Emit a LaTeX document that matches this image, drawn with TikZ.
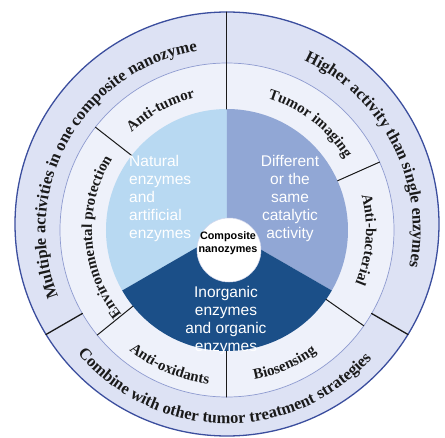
\documentclass[tikz,border=0pt]{standalone}
\usepackage{fontspec}
\setmainfont{Liberation Serif}
\setsansfont{Liberation Sans}
\usepackage{tikz}
\usetikzlibrary{calc, decorations.text}
\usepackage{tkz-euclide}

\definecolor{bandout}{HTML}{DDE2F4}
\definecolor{bandmid}{HTML}{EEF1FA}
\definecolor{rimblue}{HTML}{3B4E9E}
\definecolor{ringline}{HTML}{8E9BD0}
\definecolor{seclight}{HTML}{B8D9F2}
\definecolor{secmid}{HTML}{91A7D5}
\definecolor{secdark}{HTML}{1B4F88}
\definecolor{inkdark}{HTML}{1A1A1A}

\newcommand\outerfont{\bfseries\fontsize{16.5}{18}\selectfont}
\newcommand\ringfont{\bfseries\fontsize{15}{17}\selectfont}

\tikzset{
  divider/.style={draw=inkdark, line width=1pt},
  outertext/.style={decorate, decoration={text along path, text align=center,
      text color=inkdark, text={|\outerfont|#1}}},
  ringtext/.style={decorate, decoration={text along path, text align=center,
      text color=inkdark, text={|\ringfont|#1}}},
  pietext/.style={text=white, inner sep=0pt, align=center,
      font=\sffamily\fontsize{15.5}{18}\selectfont},
}

\begin{document}
\begin{tikzpicture}[x=1pt,y=1pt]
        \path[fill=white, use as bounding box] (-227,-207) rectangle (218,230);
        \tkzDefPoints{0/0/O,0/6/Q,0/218/T,0/167/K,2/-20/W,2/12/V}

        % the two rings
        \tkzFillCircle[fill=bandout](Q,T)
        \tkzDrawCircle[draw=rimblue, line width=1.3pt](Q,T)
        \tkzFillCircle[fill=bandmid](O,K)
        \tkzDrawCircle[draw=ringline, line width=0.7pt](O,K)

        % the three sectors
        \fill[seclight] (O) -- (90:121) arc[start angle=90, end angle=210, radius=121] -- cycle;
        \fill[secmid] (O) -- (-30:121) arc[start angle=-30, end angle=90, radius=121] -- cycle;
        \fill[secdark] (O) -- (210:121) arc[start angle=210, end angle=330, radius=121] -- cycle;

        \tkzFillCircle[fill=white](W,V)
        \tkzDrawCircle[draw=ringline!40, line width=0.5pt](W,V)

        % dividers
        \tkzDefPoint(90:121){A}
        \tkzDrawSegment[divider](A,T)
        \foreach \ang in {24,142,219,270,325}{
          \tkzDefPoint(\ang:121){p}\tkzDefPoint(\ang:167){q}
          \tkzDrawSegment[divider](p,q)}
        \foreach \ang in {210,330}{
          \tkzDefPoint(\ang:167){p}\tkzDefPoint(\ang:209){q}
          \tkzDrawSegment[divider, line width=1.3pt](p,q)}

        % outer ring
        \path[outertext={Multiple activities in one composite nanozyme}]
          (210:181.5) arc[start angle=210, end angle=91, radius=181.5];
        \path[outertext={Higher activity than single enzymes}]
          (87:186) arc[start angle=87, end angle=-33, radius=186];
        \path[outertext={Combine with other tumor treatment strategies}]
          (200:193.5) arc[start angle=200, end angle=338, radius=193.5];

        % middle ring
        \path[ringtext={Anti-tumor}] (140:136) arc[start angle=140, end angle=98, radius=136];
        \path[ringtext={Tumor imaging}] (88:138) arc[start angle=88, end angle=16, radius=138];
        \path[ringtext={Anti-bacterial}] (22:139) arc[start angle=22, end angle=-30, radius=139];
        \path[ringtext={Environmental protection}] (224:135) arc[start angle=224, end angle=143, radius=135];
        \path[ringtext={Anti-oxidants}] (222:155) arc[start angle=222, end angle=272, radius=155];
        \path[ringtext={Biosensing}] (270:152) arc[start angle=270, end angle=316.6, radius=152];

        \node[pietext, align=left, anchor=west] (natural) at (-98,32) {Natural\\enzymes\\and\\artificial\\enzymes};
        \node[pietext] (catalytic) at (63,32) {Different\\or the\\same\\catalytic\\activity};
        \node[pietext] (inorganic) at (-1,-90) {Inorganic\\enzymes\\and organic\\enzymes};
        \node[align=center, text=black, font=\sffamily\bfseries\fontsize{10.8}{13}\selectfont] (core) at (1,-13.5) {Composite\\nanozymes};
\end{tikzpicture}
\end{document}
